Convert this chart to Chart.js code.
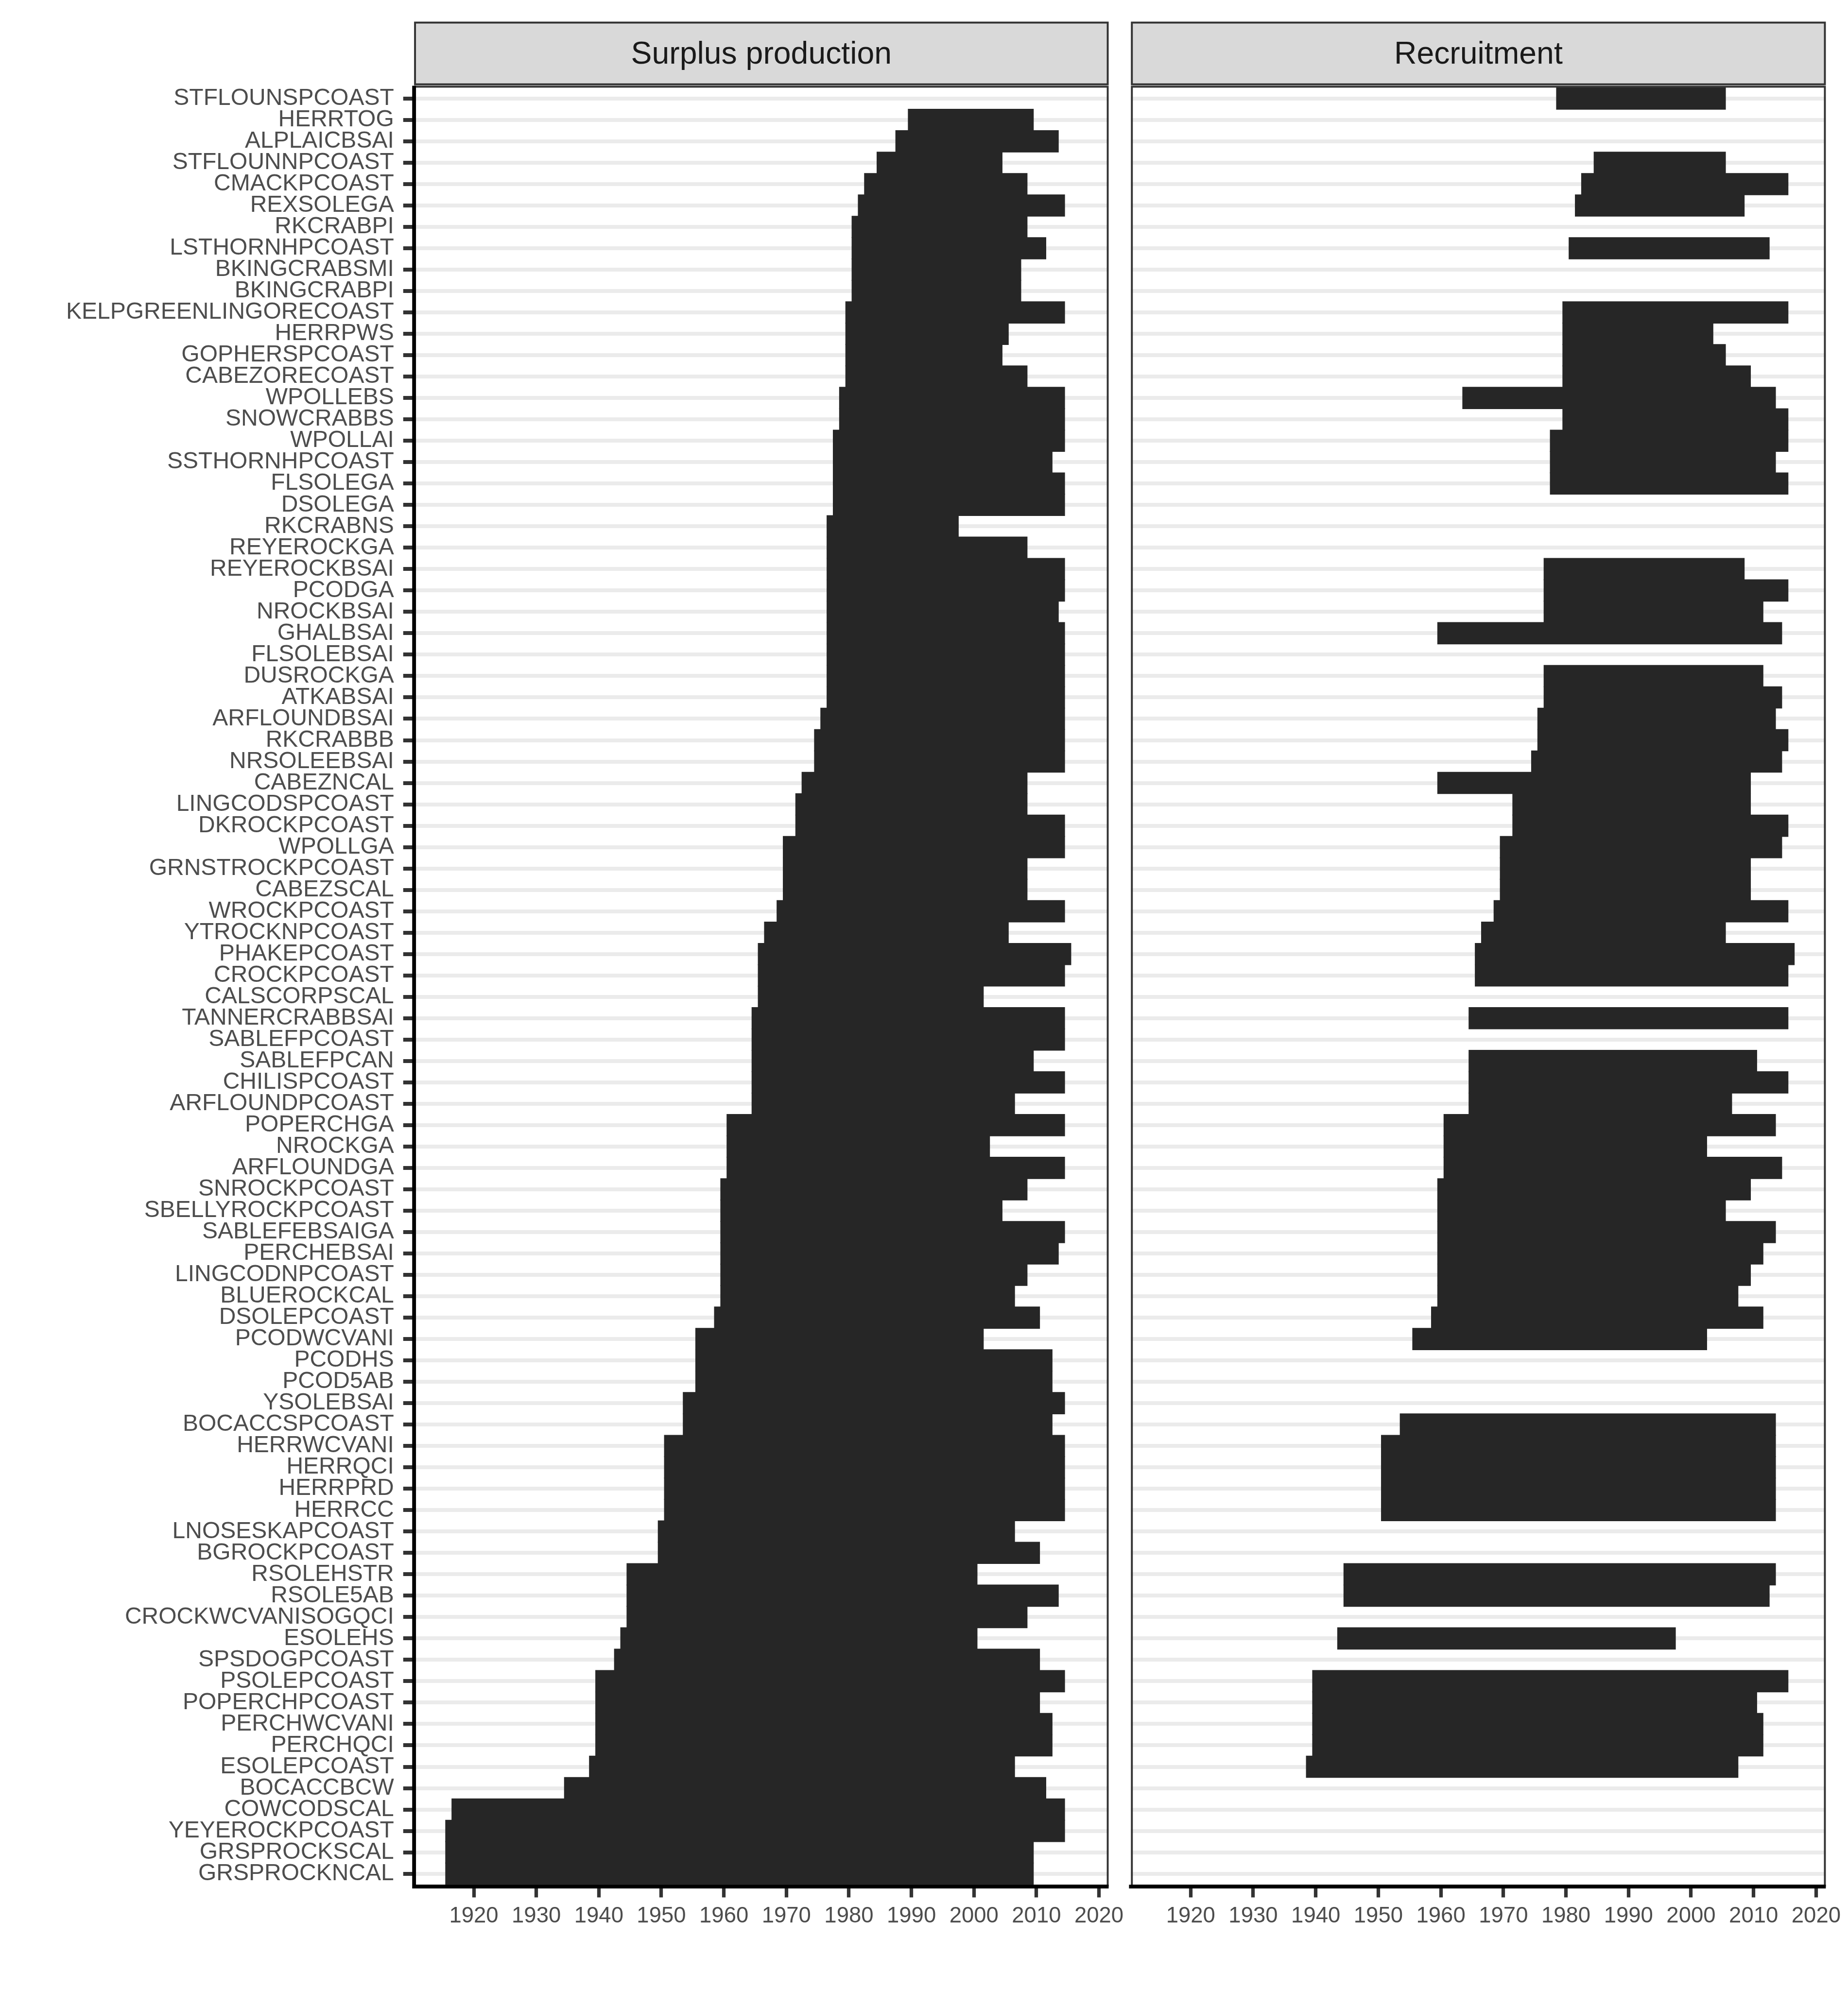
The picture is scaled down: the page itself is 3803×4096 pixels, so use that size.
<!DOCTYPE html>
<html><head><meta charset="utf-8">
<script src="https://cdn.jsdelivr.net/npm/chart.js@4.4.1/dist/chart.umd.min.js"></script>
<style>
html,body{margin:0;padding:0;background:#ffffff;}
#wrap{position:relative;width:3803px;height:4096px;overflow:hidden;}
canvas{position:absolute;left:0;top:0;}
</style></head><body>
<div id="wrap"><canvas id="c1" width="3803" height="4096"></canvas><canvas id="c2" width="3803" height="4096"></canvas></div>
<script>
// ---------------- DATA ----------------
const stocks = ["STFLOUNSPCOAST","HERRTOG","ALPLAICBSAI","STFLOUNNPCOAST","CMACKPCOAST","REXSOLEGA","RKCRABPI","LSTHORNHPCOAST","BKINGCRABSMI","BKINGCRABPI","KELPGREENLINGORECOAST","HERRPWS","GOPHERSPCOAST","CABEZORECOAST","WPOLLEBS","SNOWCRABBS","WPOLLAI","SSTHORNHPCOAST","FLSOLEGA","DSOLEGA","RKCRABNS","REYEROCKGA","REYEROCKBSAI","PCODGA","NROCKBSAI","GHALBSAI","FLSOLEBSAI","DUSROCKGA","ATKABSAI","ARFLOUNDBSAI","RKCRABBB","NRSOLEEBSAI","CABEZNCAL","LINGCODSPCOAST","DKROCKPCOAST","WPOLLGA","GRNSTROCKPCOAST","CABEZSCAL","WROCKPCOAST","YTROCKNPCOAST","PHAKEPCOAST","CROCKPCOAST","CALSCORPSCAL","TANNERCRABBSAI","SABLEFPCOAST","SABLEFPCAN","CHILISPCOAST","ARFLOUNDPCOAST","POPERCHGA","NROCKGA","ARFLOUNDGA","SNROCKPCOAST","SBELLYROCKPCOAST","SABLEFEBSAIGA","PERCHEBSAI","LINGCODNPCOAST","BLUEROCKCAL","DSOLEPCOAST","PCODWCVANI","PCODHS","PCOD5AB","YSOLEBSAI","BOCACCSPCOAST","HERRWCVANI","HERRQCI","HERRPRD","HERRCC","LNOSESKAPCOAST","BGROCKPCOAST","RSOLEHSTR","RSOLE5AB","CROCKWCVANISOGQCI","ESOLEHS","SPSDOGPCOAST","PSOLEPCOAST","POPERCHPCOAST","PERCHWCVANI","PERCHQCI","ESOLEPCOAST","BOCACCBCW","COWCODSCAL","YEYEROCKPCOAST","GRSPROCKSCAL","GRSPROCKNCAL"];

// Surplus production: first and last year
const spStart = [null,1990,1988,1985,1983,1982,1981,1981,1981,1981,
  1980,1980,1980,1980,1979,1979,1978,1978,1978,1978,
  1977,1977,1977,1977,1977,1977,1977,1977,1977,1976,
  1975,1975,1973,1972,1972,1970,1970,1970,1969,1967,
  1966,1966,1966,1965,1965,1965,1965,1965,1961,1961,
  1961,1960,1960,1960,1960,1960,1960,1959,1956,1956,
  1956,1954,1954,1951,1951,1951,1951,1950,1950,1945,
  1945,1945,1944,1943,1940,1940,1940,1940,1939,1935,
  1917,1916,1916,1916];
const spEnd = [null,2009,2013,2004,2008,2014,2008,2011,2007,2007,
  2014,2005,2004,2008,2014,2014,2014,2012,2014,2014,
  1997,2008,2014,2014,2013,2014,2014,2014,2014,2014,
  2014,2014,2008,2008,2014,2014,2008,2008,2014,2005,
  2015,2014,2001,2014,2014,2009,2014,2006,2014,2002,
  2014,2008,2004,2014,2013,2008,2006,2010,2001,2012,
  2012,2014,2012,2014,2014,2014,2014,2006,2010,2000,
  2013,2008,2000,2010,2014,2010,2012,2012,2006,2011,
  2014,2014,2009,2009];

// Recruitment: first and last year
const recStart = [1979,null,null,1985,1983,1982,null,1981,null,null,
  1980,1980,1980,1980,1964,1980,1978,1978,1978,null,
  null,null,1977,1977,1977,1960,null,1977,1977,1976,
  1976,1975,1960,1972,1972,1970,1970,1970,1969,1967,
  1966,1966,null,1965,null,1965,1965,1965,1961,1961,
  1961,1960,1960,1960,1960,1960,1960,1959,1956,null,
  null,null,1954,1951,1951,1951,1951,null,null,1945,
  1945,null,1944,null,1940,1940,1940,1940,1939,null,
  null,null,null,null];
const recEnd = [2005,null,null,2005,2015,2008,null,2012,null,null,
  2015,2003,2005,2009,2013,2015,2015,2013,2015,null,
  null,null,2008,2015,2011,2014,null,2011,2014,2013,
  2015,2014,2009,2009,2015,2014,2009,2009,2015,2005,
  2016,2015,null,2015,null,2010,2015,2006,2013,2002,
  2014,2009,2005,2013,2011,2009,2007,2011,2002,null,
  null,null,2013,2013,2013,2013,2013,null,null,2013,
  2012,null,1997,null,2015,2010,2011,2011,2007,null,
  null,null,null,null];

const xTicks = [1920,1930,1940,1950,1960,1970,1980,1990,2000,2010,2020];
const panelTitles = ["Surplus production","Recruitment"];

// ---------------- LAYOUT / STYLE ----------------
const S = 0.975;
const W = 3803, H = 4096;
const FONT = "'Liberation Sans', Arial, Helvetica, sans-serif";
const P1 = {left: 874*S, right: 2340*S};
const P2 = {left: 2387*S, right: 3853.7*S};
const TOP = 181*S, BOTTOM = 3982.6*S;
const STRIP_TOP = 45.7*S, STRIP_BOT = 180*S;
const X_MIN = 1910.45, X_MAX = 2021.55;
const TITLE_SIZE = 66*S;
const TITLE_LH = 1.2;
const titleCenter = (STRIP_TOP + STRIP_BOT)/2 + 3.5;
const titlePadTop = titleCenter - TITLE_SIZE*TITLE_LH/2;
const titlePadBottom = TOP - titlePadTop - TITLE_SIZE*TITLE_LH;

function toBars(starts, ends){
  const out = [];
  for (let i = 0; i < stocks.length; i++){
    if (starts[i] != null && ends[i] != null){
      out.push({y: i + 1, x: [starts[i] - 0.5, ends[i] + 0.5]});
    }
  }
  return out;
}

function decoPlugin(leftAxis){
  return {
    id: 'deco',
    beforeDraw(chart){
      const ctx = chart.ctx, a = chart.chartArea;
      ctx.save();
      ctx.fillStyle = '#D9D9D9';
      ctx.fillRect(a.left, STRIP_TOP, a.right - a.left, STRIP_BOT - STRIP_TOP);
      ctx.strokeStyle = '#333333';
      ctx.lineWidth = 3.9;
      ctx.strokeRect(a.left + 1.95, STRIP_TOP + 1.95, a.right - a.left - 3.9, STRIP_BOT - STRIP_TOP - 3.9);
      ctx.restore();
    },
    afterDraw(chart){
      const ctx = chart.ctx, a = chart.chartArea;
      ctx.save();
      ctx.strokeStyle = '#333333';
      ctx.lineWidth = 3.9;
      ctx.strokeRect(a.left + 1.95, a.top + 1.95, a.right - a.left - 3.9, a.bottom - a.top - 3.9);
      ctx.strokeStyle = '#000000';
      ctx.lineWidth = 7.8;
      ctx.beginPath();
      ctx.moveTo(a.left - 3.9, a.bottom);
      ctx.lineTo(a.right, a.bottom);
      if (leftAxis){
        ctx.moveTo(a.left, a.top);
        ctx.lineTo(a.left, a.bottom + 3.9);
      }
      ctx.stroke();
      ctx.restore();
    }
  };
}

function makeChart(id, title, starts, ends, panel, showLabels){
  return new Chart(document.getElementById(id), {
    type: 'bar',
    data: {
      datasets: [{
        data: toBars(starts, ends),
        backgroundColor: '#262626',
        borderWidth: 0,
        inflateAmount: 0.8,
        barPercentage: 1,
        categoryPercentage: 1
      }]
    },
    options: {
      indexAxis: 'y',
      responsive: false,
      animation: false,
      devicePixelRatio: 1,
      layout: {padding: {left: showLabels ? 0 : panel.left, right: W - panel.right, top: 0, bottom: 0}},
      plugins: {
        legend: {display: false},
        tooltip: {enabled: false},
        title: {
          display: true, text: title, color: '#1A1A1A', fullSize: false,
          font: {family: FONT, size: TITLE_SIZE, weight: 'normal', lineHeight: TITLE_LH},
          padding: {top: titlePadTop, bottom: titlePadBottom}
        }
      },
      scales: {
        x: {
          type: 'linear', position: 'bottom', min: X_MIN, max: X_MAX, offset: false,
          afterBuildTicks: axis => { axis.ticks = xTicks.map(v => ({value: v})); },
          afterFit: axis => { axis.height = H - BOTTOM; },
          border: {display: false},
          grid: {display: true, drawOnChartArea: false, drawTicks: true, tickLength: 22.4, tickWidth: 7.3, tickColor: '#333333'},
          ticks: {
            autoSkip: false, maxRotation: 0, minRotation: 0, padding: 12,
            color: '#4D4D4D', font: {family: FONT, size: 45.5},
            callback: v => String(v)
          }
        },
        y: {
          type: 'linear', position: 'left', reverse: true, offset: false,
          min: 0.4, max: stocks.length + 0.6,
          afterBuildTicks: axis => { axis.ticks = stocks.map((s, i) => ({value: i + 1})); },
          afterFit: axis => { axis.width = showLabels ? panel.left : 0; },
          border: {display: false},
          grid: {
            display: true, drawOnChartArea: true, drawTicks: showLabels, offset: false,
            color: '#EBEBEB', lineWidth: 8,
            tickLength: 22.4, tickWidth: 8, tickColor: '#333333'
          },
          ticks: {
            display: showLabels, autoSkip: false, padding: 19,
            color: '#4D4D4D', font: {family: FONT, size: 48, lineHeight: 1},
            callback: v => stocks[v - 1] || ''
          }
        }
      }
    },
    plugins: [decoPlugin(showLabels)]
  });
}

makeChart('c1', panelTitles[0], spStart, spEnd, P1, true);
makeChart('c2', panelTitles[1], recStart, recEnd, P2, false);
</script>
</body></html>
